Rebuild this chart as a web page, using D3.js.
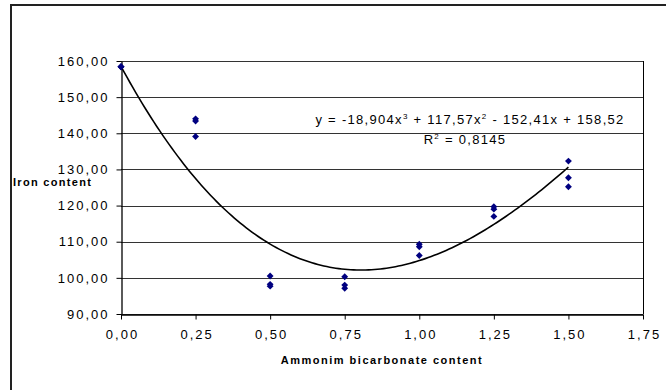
<!DOCTYPE html>
<html>
<head>
<meta charset="utf-8">
<script src="https://cdn.jsdelivr.net/npm/d3@7"></script>
<style>
    html, body { margin: 0; padding: 0; background: #fff; }
    svg { display: block; font-family: "Liberation Sans", Arial, sans-serif; }
</style>
</head>
<body>
<svg id="ironChart" width="666" height="390"></svg>
<script>

// DATA
var ammonimContent = [0, 0.25, 0.5, 0.75, 1.0, 1.25, 1.5];
var ironSample1 = [158.4, 144.0, 100.5, 100.3, 109.3, 119.7, 132.3];
var ironSample2 = [158.4, 143.4, 98.2, 98.0, 108.6, 119.0, 127.7];
var ironSample3 = [158.4, 139.1, 97.7, 97.1, 106.2, 117.0, 125.2];
var trendCoef = [158.52, -152.41, 117.57, -18.904]; // c0 + c1 x + c2 x^2 + c3 x^3
var xTicks = [0, 0.25, 0.5, 0.75, 1.0, 1.25, 1.5, 1.75];
var yTicks = [90, 100, 110, 120, 130, 140, 150, 160];

var chart = d3.select("svg#ironChart"),
    margin = { top: 61, right: 23, bottom: 76, left: 121 },
    width = 666 - margin.left - margin.right,
    height = 390 - margin.top - margin.bottom;

var x = d3.scaleLinear().domain([0, 1.75]).range([0, width]),
    y = d3.scaleLinear().domain([90, 160]).range([height, 0]);

var comma = d3.formatLocale({ decimal: ",", thousands: ".", grouping: [3], currency: ["", ""] }).format(".2f");

// outer frame of the chart area (cut by the picture edges)
chart.append("path")
    .attr("d", "M11,400 L11,5 L680,5")
    .attr("fill", "none")
    .attr("stroke", "#222")
    .attr("stroke-width", 2);

var g = chart.append("g")
    .attr("transform", "translate(" + margin.left + "," + margin.top + ")");

// gridlines
g.append("g")
    .attr("class", "grid")
    .selectAll("line")
    .data(yTicks)
    .enter()
    .append("line")
    .attr("x1", 0)
    .attr("x2", width)
    .attr("y1", function (d) { return Math.round(y(d)) + 0.5; })
    .attr("y2", function (d) { return Math.round(y(d)) + 0.5; })
    .attr("stroke", "#333")
    .attr("stroke-width", 1);

// right edge of plot area
g.append("line")
    .attr("x1", width + 0.5).attr("x2", width + 0.5)
    .attr("y1", 0).attr("y2", height)
    .attr("stroke", "#000");

var xAxis = g.append("g")
    .attr("class", "axis axis--x")
    .attr("transform", "translate(0," + (Math.round(height) + 0.5) + ")")
    .call(d3.axisBottom(x).tickValues(xTicks).tickFormat(comma).tickSize(5).tickSizeOuter(0));

var yAxis = g.append("g")
    .attr("class", "axis axis--y")
    .attr("transform", "translate(0.5,0)")
    .call(d3.axisLeft(y).tickValues(yTicks).tickFormat(comma).tickSize(5).tickSizeOuter(0));

chart.selectAll(".axis path.domain").attr("stroke", "#000").attr("stroke-width", 1.3);
chart.selectAll(".axis .tick line").attr("stroke", "#000");
chart.selectAll(".axis text")
    .attr("fill", "#000")
    .style("font-size", "13px")
    .style("letter-spacing", "2px")
    .style("font-family", "'Liberation Sans', Arial, sans-serif");

xAxis.selectAll("text").attr("y", 15).attr("dx", "1px");
yAxis.selectAll("text").attr("x", -12);

// trendline (poly, order 3)
var trendX = d3.range(0, 1.5001, 0.01);
var line = d3.line()
    .x(function (d) { return x(d); })
    .y(function (d) { return y(trendCoef[0] + trendCoef[1] * d + trendCoef[2] * d * d + trendCoef[3] * d * d * d); })
    .curve(d3.curveLinear);

g.append("path")
    .datum(trendX)
    .attr("d", line)
    .attr("fill", "none")
    .attr("stroke", "#000")
    .attr("stroke-width", 1.6);

// points
var points = [];
[ironSample1, ironSample2, ironSample3].forEach(function (s) {
    s.forEach(function (v, i) { points.push({ x: ammonimContent[i], y: v }); });
});

g.selectAll(".dot")
    .data(points)
    .enter()
    .append("path")
    .attr("class", "dot")
    .attr("d", d3.symbol().type(d3.symbolDiamond2).size(30))
    .attr("transform", function (d) { return "translate(" + x(d.x) + "," + y(d.y) + ")"; })
    .attr("fill", "#000080");

// trend equation
var eq = g.append("text")
    .attr("x", 349)
    .attr("y", 63)
    .attr("text-anchor", "middle")
    .style("font-size", "13px")
    .style("letter-spacing", "1.3px");

eq.append("tspan").text("y = -18,904x");
eq.append("tspan").attr("dy", -5).style("font-size", "8px").text("3");
eq.append("tspan").attr("dy", 5).text(" + 117,57x");
eq.append("tspan").attr("dy", -5).style("font-size", "8px").text("2");
eq.append("tspan").attr("dy", 5).text(" - 152,41x + 158,52");

var r2 = g.append("text")
    .attr("x", 344)
    .attr("y", 83)
    .attr("text-anchor", "middle")
    .style("font-size", "13px")
    .style("letter-spacing", "1.3px");

r2.append("tspan").text("R");
r2.append("tspan").attr("dy", -5).style("font-size", "8px").text("2");
r2.append("tspan").attr("dy", 5).text(" = 0,8145");

// axis titles
chart.append("text")
    .attr("x", 13)
    .attr("y", 186)
    .text("Iron content")
    .style("font-size", "11px")
    .style("font-weight", "bold")
    .style("letter-spacing", "1.3px");

chart.append("text")
    .attr("x", margin.left + width / 2)
    .attr("y", 364)
    .attr("text-anchor", "middle")
    .text("Ammonim bicarbonate content")
    .style("font-size", "11px")
    .style("font-weight", "bold")
    .style("letter-spacing", "1.5px");

</script>
</body>
</html>
